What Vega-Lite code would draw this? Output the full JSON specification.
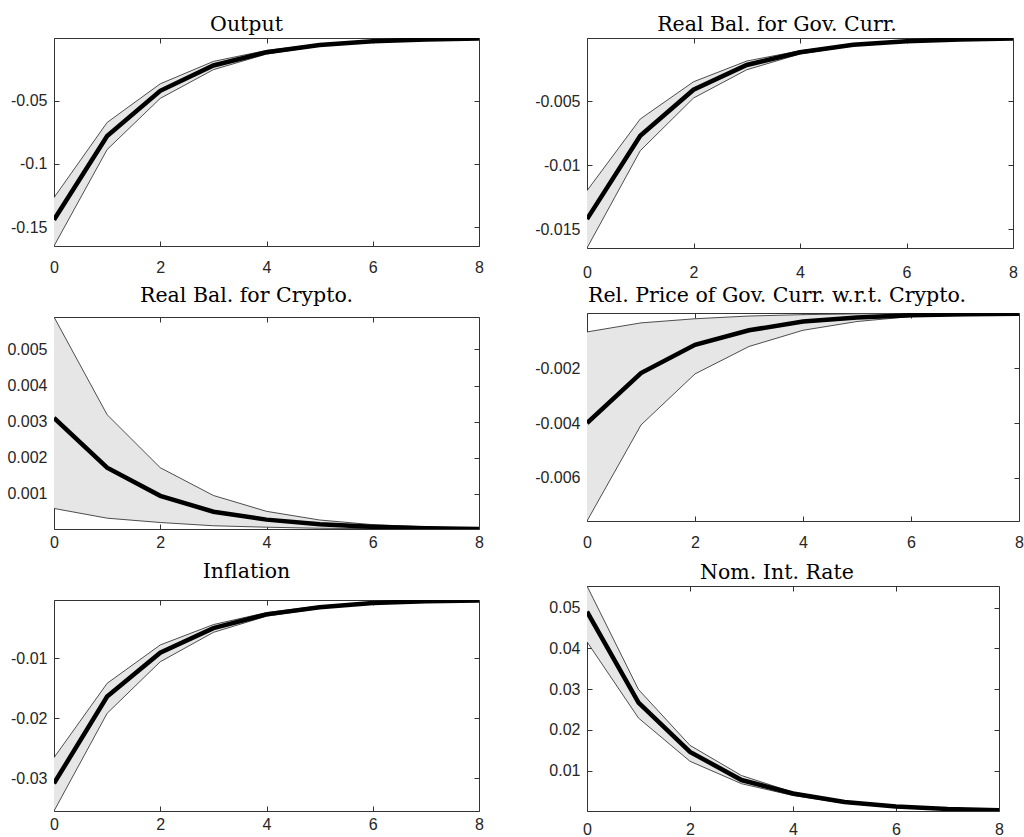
{
  "$schema": "https://vega.github.io/schema/vega-lite/v6.json",
  "background": "white",
  "padding": {"left": 6, "top": 14, "right": 0, "bottom": 0},
  "datasets": {
    "irf": [
      {"p": "out", "x": 0, "m": -0.144, "lo": -0.1648, "hi": -0.1266},
      {"p": "out", "x": 1, "m": -0.078, "lo": -0.0886, "hi": -0.0672},
      {"p": "out", "x": 2, "m": -0.0422, "lo": -0.0482, "hi": -0.0367},
      {"p": "out", "x": 3, "m": -0.0222, "lo": -0.0255, "hi": -0.019},
      {"p": "out", "x": 4, "m": -0.0117, "lo": -0.0132, "hi": -0.0103},
      {"p": "out", "x": 5, "m": -0.006, "lo": -0.0068, "hi": -0.0053},
      {"p": "out", "x": 6, "m": -0.0031, "lo": -0.0036, "hi": -0.0027},
      {"p": "out", "x": 7, "m": -0.0017, "lo": -0.0019, "hi": -0.0014},
      {"p": "out", "x": 8, "m": -0.0009, "lo": -0.001, "hi": -0.0005},
      {"p": "gov", "x": 0, "m": -0.0142, "lo": -0.01646, "hi": -0.01198},
      {"p": "gov", "x": 1, "m": -0.00769, "lo": -0.00886, "hi": -0.00638},
      {"p": "gov", "x": 2, "m": -0.00409, "lo": -0.00474, "hi": -0.00347},
      {"p": "gov", "x": 3, "m": -0.00216, "lo": -0.00253, "hi": -0.00185},
      {"p": "gov", "x": 4, "m": -0.00117, "lo": -0.0013, "hi": -0.00105},
      {"p": "gov", "x": 5, "m": -0.00058, "lo": -0.00065, "hi": -0.00052},
      {"p": "gov", "x": 6, "m": -0.0003, "lo": -0.00035, "hi": -0.00026},
      {"p": "gov", "x": 7, "m": -0.00016, "lo": -0.00019, "hi": -0.00013},
      {"p": "gov", "x": 8, "m": -0.00008, "lo": -0.0001, "hi": -0.00005},
      {"p": "cry", "x": 0, "m": 0.0031, "lo": 0.00059, "hi": 0.0059},
      {"p": "cry", "x": 1, "m": 0.00172, "lo": 0.00032, "hi": 0.00319},
      {"p": "cry", "x": 2, "m": 0.00094, "lo": 0.0002, "hi": 0.00172},
      {"p": "cry", "x": 3, "m": 0.0005, "lo": 0.00011, "hi": 0.00095},
      {"p": "cry", "x": 4, "m": 0.00028, "lo": 0.00007, "hi": 0.00051},
      {"p": "cry", "x": 5, "m": 0.00015, "lo": 0.00004, "hi": 0.00027},
      {"p": "cry", "x": 6, "m": 0.00008, "lo": 0.00003, "hi": 0.00014},
      {"p": "cry", "x": 7, "m": 0.00004, "lo": 0.00002, "hi": 0.00008},
      {"p": "cry", "x": 8, "m": 0.00002, "lo": 0.00002, "hi": 0.00004},
      {"p": "rel", "x": 0, "m": -0.004, "lo": -0.00757, "hi": -0.00068},
      {"p": "rel", "x": 1, "m": -0.00218, "lo": -0.00407, "hi": -0.00035},
      {"p": "rel", "x": 2, "m": -0.00115, "lo": -0.00221, "hi": -0.0002},
      {"p": "rel", "x": 3, "m": -0.00062, "lo": -0.00121, "hi": -0.0001},
      {"p": "rel", "x": 4, "m": -0.0003, "lo": -0.00062, "hi": -0.00005},
      {"p": "rel", "x": 5, "m": -0.00015, "lo": -0.0003, "hi": -0.00002},
      {"p": "rel", "x": 6, "m": -0.00007, "lo": -0.00012, "hi": -0.00001},
      {"p": "rel", "x": 7, "m": -0.00004, "lo": -0.00006, "hi": 0},
      {"p": "rel", "x": 8, "m": -0.00002, "lo": -0.00003, "hi": 0.00001},
      {"p": "inf", "x": 0, "m": -0.0309, "lo": -0.0355, "hi": -0.0266},
      {"p": "inf", "x": 1, "m": -0.0164, "lo": -0.0192, "hi": -0.0142},
      {"p": "inf", "x": 2, "m": -0.0091, "lo": -0.0106, "hi": -0.0078},
      {"p": "inf", "x": 3, "m": -0.005, "lo": -0.0057, "hi": -0.0044},
      {"p": "inf", "x": 4, "m": -0.0027, "lo": -0.003, "hi": -0.0024},
      {"p": "inf", "x": 5, "m": -0.0015, "lo": -0.0017, "hi": -0.0013},
      {"p": "inf", "x": 6, "m": -0.0008, "lo": -0.0009, "hi": -0.0007},
      {"p": "inf", "x": 7, "m": -0.0005, "lo": -0.0006, "hi": -0.0004},
      {"p": "inf", "x": 8, "m": -0.0004, "lo": -0.0005, "hi": -0.0003},
      {"p": "nom", "x": 0, "m": 0.049, "lo": 0.0416, "hi": 0.0553},
      {"p": "nom", "x": 1, "m": 0.0267, "lo": 0.0229, "hi": 0.0299},
      {"p": "nom", "x": 2, "m": 0.0146, "lo": 0.0123, "hi": 0.0162},
      {"p": "nom", "x": 3, "m": 0.0077, "lo": 0.0068, "hi": 0.0088},
      {"p": "nom", "x": 4, "m": 0.0044, "lo": 0.0039, "hi": 0.0047},
      {"p": "nom", "x": 5, "m": 0.0023, "lo": 0.002, "hi": 0.0025},
      {"p": "nom", "x": 6, "m": 0.0012, "lo": 0.001, "hi": 0.0013},
      {"p": "nom", "x": 7, "m": 0.0006, "lo": 0.0005, "hi": 0.0007},
      {"p": "nom", "x": 8, "m": 0.0003, "lo": 0.0001, "hi": 0.0004}
    ]
  },
  "data": {"name": "irf"},
  "config": {
    "view": {"stroke": "#333333", "strokeWidth": 1},
    "axis": {"domain": false, "grid": false, "title": null, "tickColor": "#333333", "tickSize": -5, "tickWidth": 1, "labelFont": "Liberation Sans", "labelFontSize": 16, "labelColor": "#262626", "labelFlush": false, "labelOverlap": false},
    "axisBottom": {"labelPadding": 18},
    "axisLeft": {"labelPadding": 12},
    "title": {"font": "DejaVu Serif", "fontSize": 20.5, "fontWeight": "normal", "color": "#000000", "anchor": "middle", "frame": "group", "baseline": "alphabetic"}
  },
  "hconcat": [
    {
      "vconcat": [
        {
          "width": 425, "height": 208,
          "title": {"text": "Output", "offset": 2, "dx": -20, "font": "DejaVu Serif", "fontSize": 20.5, "fontWeight": "normal"},
          "transform": [{"filter": "datum.p === 'out'"}],
          "layer": [
            {"mark": {"type": "area", "color": "#e6e6e6", "clip": true}, "encoding": {"x": {"field": "x", "type": "quantitative", "scale": {"domain": [0, 8], "nice": false}, "axis": {"orient": "bottom", "values": [0, 2, 4, 6, 8], "labelPadding": 18}}, "y": {"field": "lo", "type": "quantitative", "scale": {"domain": [-0.1648, -0.0005], "nice": false, "zero": false}, "axis": {"orient": "left", "values": [-0.15, -0.1, -0.05], "labelExpr": "'' + datum.value"}}, "y2": {"field": "hi"}}},
            {"mark": {"type": "line", "color": "#3a3a3a", "strokeWidth": 0.9, "clip": true}, "encoding": {"x": {"field": "x", "type": "quantitative", "scale": {"domain": [0, 8], "nice": false}, "axis": {"orient": "top", "labels": false, "values": [0, 2, 4, 6, 8]}}, "y": {"field": "hi", "type": "quantitative", "scale": {"domain": [-0.1648, -0.0005], "nice": false, "zero": false}, "axis": {"orient": "right", "labels": false, "values": [-0.15, -0.1, -0.05]}}}},
            {"mark": {"type": "line", "color": "#3a3a3a", "strokeWidth": 0.9, "clip": true}, "encoding": {"x": {"field": "x", "type": "quantitative", "scale": {"domain": [0, 8], "nice": false}, "axis": null}, "y": {"field": "lo", "type": "quantitative", "scale": {"domain": [-0.1648, -0.0005], "nice": false, "zero": false}, "axis": null}}},
            {"mark": {"type": "line", "color": "#000000", "strokeWidth": 4.5, "clip": true}, "encoding": {"x": {"field": "x", "type": "quantitative", "scale": {"domain": [0, 8], "nice": false}, "axis": null}, "y": {"field": "m", "type": "quantitative", "scale": {"domain": [-0.1648, -0.0005], "nice": false, "zero": false}, "axis": null}}}
          ],
          "resolve": {"axis": {"x": "independent", "y": "independent"}}
        },
        {
          "width": 425, "height": 212,
          "title": {"text": "Real Bal. for Crypto.", "offset": 10, "dx": -20, "font": "DejaVu Serif", "fontSize": 20.5, "fontWeight": "normal"},
          "transform": [{"filter": "datum.p === 'cry'"}],
          "layer": [
            {"mark": {"type": "area", "color": "#e6e6e6", "clip": true}, "encoding": {"x": {"field": "x", "type": "quantitative", "scale": {"domain": [0, 8], "nice": false}, "axis": {"orient": "bottom", "values": [0, 2, 4, 6, 8], "labelPadding": 10}}, "y": {"field": "lo", "type": "quantitative", "scale": {"domain": [0.00002, 0.0059], "nice": false, "zero": false}, "axis": {"orient": "left", "values": [0.001, 0.002, 0.003, 0.004, 0.005], "labelExpr": "'' + datum.value"}}, "y2": {"field": "hi"}}},
            {"mark": {"type": "line", "color": "#3a3a3a", "strokeWidth": 0.9, "clip": true}, "encoding": {"x": {"field": "x", "type": "quantitative", "scale": {"domain": [0, 8], "nice": false}, "axis": {"orient": "top", "labels": false, "values": [0, 2, 4, 6, 8]}}, "y": {"field": "hi", "type": "quantitative", "scale": {"domain": [0.00002, 0.0059], "nice": false, "zero": false}, "axis": {"orient": "right", "labels": false, "values": [0.001, 0.002, 0.003, 0.004, 0.005]}}}},
            {"mark": {"type": "line", "color": "#3a3a3a", "strokeWidth": 0.9, "clip": true}, "encoding": {"x": {"field": "x", "type": "quantitative", "scale": {"domain": [0, 8], "nice": false}, "axis": null}, "y": {"field": "lo", "type": "quantitative", "scale": {"domain": [0.00002, 0.0059], "nice": false, "zero": false}, "axis": null}}},
            {"mark": {"type": "line", "color": "#000000", "strokeWidth": 4.5, "clip": true}, "encoding": {"x": {"field": "x", "type": "quantitative", "scale": {"domain": [0, 8], "nice": false}, "axis": null}, "y": {"field": "m", "type": "quantitative", "scale": {"domain": [0.00002, 0.0059], "nice": false, "zero": false}, "axis": null}}}
          ],
          "resolve": {"axis": {"x": "independent", "y": "independent"}}
        },
        {
          "width": 425, "height": 211,
          "title": {"text": "Inflation", "offset": 17, "dx": -20, "font": "DejaVu Serif", "fontSize": 20.5, "fontWeight": "normal"},
          "transform": [{"filter": "datum.p === 'inf'"}],
          "layer": [
            {"mark": {"type": "area", "color": "#e6e6e6", "clip": true}, "encoding": {"x": {"field": "x", "type": "quantitative", "scale": {"domain": [0, 8], "nice": false}, "axis": {"orient": "bottom", "values": [0, 2, 4, 6, 8], "labelPadding": 10}}, "y": {"field": "lo", "type": "quantitative", "scale": {"domain": [-0.0355, -0.0003], "nice": false, "zero": false}, "axis": {"orient": "left", "values": [-0.03, -0.02, -0.01], "labelExpr": "'' + datum.value"}}, "y2": {"field": "hi"}}},
            {"mark": {"type": "line", "color": "#3a3a3a", "strokeWidth": 0.9, "clip": true}, "encoding": {"x": {"field": "x", "type": "quantitative", "scale": {"domain": [0, 8], "nice": false}, "axis": {"orient": "top", "labels": false, "values": [0, 2, 4, 6, 8]}}, "y": {"field": "hi", "type": "quantitative", "scale": {"domain": [-0.0355, -0.0003], "nice": false, "zero": false}, "axis": {"orient": "right", "labels": false, "values": [-0.03, -0.02, -0.01]}}}},
            {"mark": {"type": "line", "color": "#3a3a3a", "strokeWidth": 0.9, "clip": true}, "encoding": {"x": {"field": "x", "type": "quantitative", "scale": {"domain": [0, 8], "nice": false}, "axis": null}, "y": {"field": "lo", "type": "quantitative", "scale": {"domain": [-0.0355, -0.0003], "nice": false, "zero": false}, "axis": null}}},
            {"mark": {"type": "line", "color": "#000000", "strokeWidth": 4.5, "clip": true}, "encoding": {"x": {"field": "x", "type": "quantitative", "scale": {"domain": [0, 8], "nice": false}, "axis": null}, "y": {"field": "m", "type": "quantitative", "scale": {"domain": [-0.0355, -0.0003], "nice": false, "zero": false}, "axis": null}}}
          ],
          "resolve": {"axis": {"x": "independent", "y": "independent"}}
        }
      ],
      "spacing": 71,
      "bounds": "flush"
    },
    {
      "vconcat": [
        {
          "width": 426, "height": 210,
          "title": {"text": "Real Bal. for Gov. Curr.", "offset": 2, "dx": -23, "font": "DejaVu Serif", "fontSize": 20.5, "fontWeight": "normal"},
          "transform": [{"filter": "datum.p === 'gov'"}],
          "layer": [
            {"mark": {"type": "area", "color": "#e6e6e6", "clip": true}, "encoding": {"x": {"field": "x", "type": "quantitative", "scale": {"domain": [0, 8], "nice": false}, "axis": {"orient": "bottom", "values": [0, 2, 4, 6, 8], "labelPadding": 21}}, "y": {"field": "lo", "type": "quantitative", "scale": {"domain": [-0.01646, -0.00005], "nice": false, "zero": false}, "axis": {"orient": "left", "values": [-0.015, -0.01, -0.005], "labelExpr": "'' + datum.value"}}, "y2": {"field": "hi"}}},
            {"mark": {"type": "line", "color": "#3a3a3a", "strokeWidth": 0.9, "clip": true}, "encoding": {"x": {"field": "x", "type": "quantitative", "scale": {"domain": [0, 8], "nice": false}, "axis": {"orient": "top", "labels": false, "values": [0, 2, 4, 6, 8]}}, "y": {"field": "hi", "type": "quantitative", "scale": {"domain": [-0.01646, -0.00005], "nice": false, "zero": false}, "axis": {"orient": "right", "labels": false, "values": [-0.015, -0.01, -0.005]}}}},
            {"mark": {"type": "line", "color": "#3a3a3a", "strokeWidth": 0.9, "clip": true}, "encoding": {"x": {"field": "x", "type": "quantitative", "scale": {"domain": [0, 8], "nice": false}, "axis": null}, "y": {"field": "lo", "type": "quantitative", "scale": {"domain": [-0.01646, -0.00005], "nice": false, "zero": false}, "axis": null}}},
            {"mark": {"type": "line", "color": "#000000", "strokeWidth": 4.5, "clip": true}, "encoding": {"x": {"field": "x", "type": "quantitative", "scale": {"domain": [0, 8], "nice": false}, "axis": null}, "y": {"field": "m", "type": "quantitative", "scale": {"domain": [-0.01646, -0.00005], "nice": false, "zero": false}, "axis": null}}}
          ],
          "resolve": {"axis": {"x": "independent", "y": "independent"}}
        },
        {
          "width": 432, "height": 208,
          "title": {"text": "Rel. Price of Gov. Curr. w.r.t. Crypto.", "offset": 6, "dx": -26, "font": "DejaVu Serif", "fontSize": 20.5, "fontWeight": "normal"},
          "transform": [{"filter": "datum.p === 'rel'"}],
          "layer": [
            {"mark": {"type": "area", "color": "#e6e6e6", "clip": true}, "encoding": {"x": {"field": "x", "type": "quantitative", "scale": {"domain": [0, 8], "nice": false}, "axis": {"orient": "bottom", "values": [0, 2, 4, 6, 8], "labelPadding": 18}}, "y": {"field": "lo", "type": "quantitative", "scale": {"domain": [-0.00757, 0.00001], "nice": false, "zero": false}, "axis": {"orient": "left", "values": [-0.006, -0.004, -0.002], "labelExpr": "'' + datum.value"}}, "y2": {"field": "hi"}}},
            {"mark": {"type": "line", "color": "#3a3a3a", "strokeWidth": 0.9, "clip": true}, "encoding": {"x": {"field": "x", "type": "quantitative", "scale": {"domain": [0, 8], "nice": false}, "axis": {"orient": "top", "labels": false, "values": [0, 2, 4, 6, 8]}}, "y": {"field": "hi", "type": "quantitative", "scale": {"domain": [-0.00757, 0.00001], "nice": false, "zero": false}, "axis": {"orient": "right", "labels": false, "values": [-0.006, -0.004, -0.002]}}}},
            {"mark": {"type": "line", "color": "#3a3a3a", "strokeWidth": 0.9, "clip": true}, "encoding": {"x": {"field": "x", "type": "quantitative", "scale": {"domain": [0, 8], "nice": false}, "axis": null}, "y": {"field": "lo", "type": "quantitative", "scale": {"domain": [-0.00757, 0.00001], "nice": false, "zero": false}, "axis": null}}},
            {"mark": {"type": "line", "color": "#000000", "strokeWidth": 4.5, "clip": true}, "encoding": {"x": {"field": "x", "type": "quantitative", "scale": {"domain": [0, 8], "nice": false}, "axis": null}, "y": {"field": "m", "type": "quantitative", "scale": {"domain": [-0.00757, 0.00001], "nice": false, "zero": false}, "axis": null}}}
          ],
          "resolve": {"axis": {"x": "independent", "y": "independent"}}
        },
        {
          "width": 412, "height": 225,
          "title": {"text": "Nom. Int. Rate", "offset": 2, "dx": -16, "font": "DejaVu Serif", "fontSize": 20.5, "fontWeight": "normal"},
          "transform": [{"filter": "datum.p === 'nom'"}],
          "layer": [
            {"mark": {"type": "area", "color": "#e6e6e6", "clip": true}, "encoding": {"x": {"field": "x", "type": "quantitative", "scale": {"domain": [0, 8], "nice": false}, "axis": {"orient": "bottom", "values": [0, 2, 4, 6, 8], "labelPadding": 15}}, "y": {"field": "lo", "type": "quantitative", "scale": {"domain": [0.0001, 0.0553], "nice": false, "zero": false}, "axis": {"orient": "left", "values": [0.01, 0.02, 0.03, 0.04, 0.05], "labelExpr": "'' + datum.value"}}, "y2": {"field": "hi"}}},
            {"mark": {"type": "line", "color": "#3a3a3a", "strokeWidth": 0.9, "clip": true}, "encoding": {"x": {"field": "x", "type": "quantitative", "scale": {"domain": [0, 8], "nice": false}, "axis": {"orient": "top", "labels": false, "values": [0, 2, 4, 6, 8]}}, "y": {"field": "hi", "type": "quantitative", "scale": {"domain": [0.0001, 0.0553], "nice": false, "zero": false}, "axis": {"orient": "right", "labels": false, "values": [0.01, 0.02, 0.03, 0.04, 0.05]}}}},
            {"mark": {"type": "line", "color": "#3a3a3a", "strokeWidth": 0.9, "clip": true}, "encoding": {"x": {"field": "x", "type": "quantitative", "scale": {"domain": [0, 8], "nice": false}, "axis": null}, "y": {"field": "lo", "type": "quantitative", "scale": {"domain": [0.0001, 0.0553], "nice": false, "zero": false}, "axis": null}}},
            {"mark": {"type": "line", "color": "#000000", "strokeWidth": 4.5, "clip": true}, "encoding": {"x": {"field": "x", "type": "quantitative", "scale": {"domain": [0, 8], "nice": false}, "axis": null}, "y": {"field": "m", "type": "quantitative", "scale": {"domain": [0.0001, 0.0553], "nice": false, "zero": false}, "axis": null}}}
          ],
          "resolve": {"axis": {"x": "independent", "y": "independent"}}
        }
      ],
      "spacing": 65,
      "bounds": "flush"
    }
  ],
  "spacing": 50
}
